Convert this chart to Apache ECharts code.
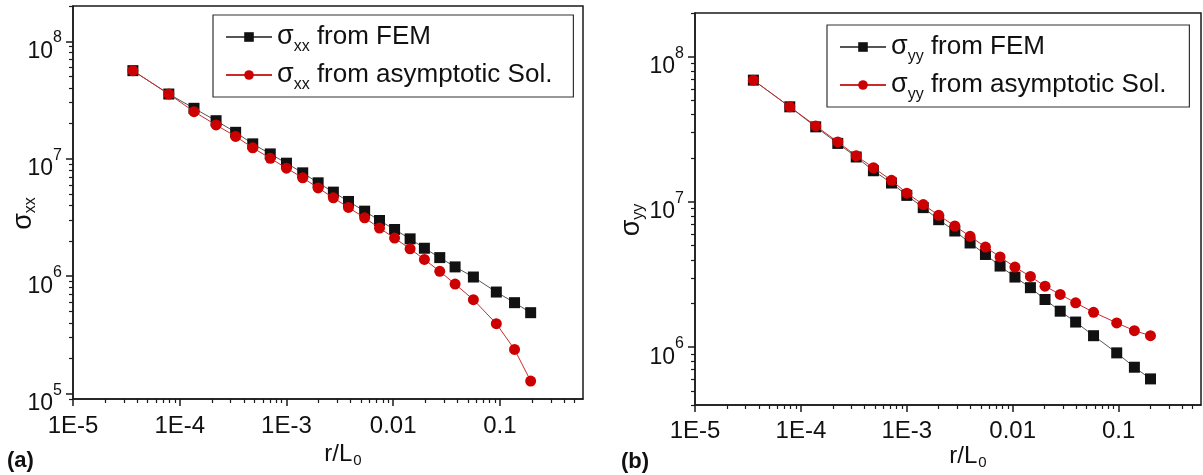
<!DOCTYPE html>
<html>
<head>
<meta charset="utf-8">
<style>
  html, body { margin: 0; padding: 0; background: #fff; }
  #chart { width: 1203px; height: 475px; }
</style>
<script src="https://cdn.jsdelivr.net/npm/echarts@6.0.0/dist/echarts.min.js"></script>
</head>
<body>
<div id="chart"></div>
<script>
// ---------- data ----------
const xA = [3.64e-5, 7.9e-5, 1.36e-4, 2.19e-4, 3.34e-4, 4.83e-4, 7.05e-4, 1.0e-3, 1.42e-3, 1.98e-3, 2.75e-3, 3.81e-3,
            5.4e-3, 7.44e-3, 0.0103, 0.0144, 0.0196, 0.0273, 0.038, 0.0564, 0.0925, 0.137, 0.194];
const sxxFEM = [5.63e7, 3.56e7, 2.69e7, 2.11e7, 1.68e7, 1.34e7, 1.10e7, 9.17e6, 7.59e6, 6.24e6, 5.2e6, 4.33e6,
                3.58e6, 2.98e6, 2.5e6, 2.08e6, 1.73e6, 1.44e6, 1.2e6, 9.84e5, 7.33e5, 5.95e5, 4.89e5];
const sxxAsym = [5.63e7, 3.56e7, 2.52e7, 1.94e7, 1.55e7, 1.24e7, 1.01e7, 8.32e6, 6.88e6, 5.65e6, 4.65e6, 3.85e6,
                 3.14e6, 2.57e6, 2.11e6, 1.71e6, 1.39e6, 1.10e6, 8.57e5, 6.31e5, 3.94e5, 2.38e5, 1.28e5];

const xB = [3.56e-5, 7.85e-5, 1.38e-4, 2.23e-4, 3.33e-4, 4.84e-4, 7.17e-4, 1.0e-3, 1.43e-3, 2.0e-3, 2.84e-3, 3.96e-3,
            5.53e-3, 7.6e-3, 0.0105, 0.0147, 0.0202, 0.0281, 0.0393, 0.058, 0.096, 0.141, 0.2];
const syyFEM = [6.9e7, 4.52e7, 3.29e7, 2.53e7, 2.04e7, 1.64e7, 1.35e7, 1.11e7, 9.14e6, 7.55e6, 6.31e6, 5.22e6,
                4.35e6, 3.62e6, 3.04e6, 2.57e6, 2.13e6, 1.77e6, 1.49e6, 1.2e6, 9.14e5, 7.28e5, 6.05e5];
const syyAsym = [6.9e7, 4.52e7, 3.34e7, 2.59e7, 2.08e7, 1.72e7, 1.41e7, 1.15e7, 9.59e6, 8.1e6, 6.83e6, 5.8e6,
                 4.89e6, 4.18e6, 3.56e6, 3.07e6, 2.63e6, 2.31e6, 2.02e6, 1.74e6, 1.47e6, 1.30e6, 1.2e6];

// ---------- ticks ----------
const xTickVals = [1e-5, 1e-4, 1e-3, 0.01, 0.1];
const xTickLabels = ['1E-5', '1E-4', '1E-3', '0.01', '0.1'];
const yTickValsA = [1e5, 1e6, 1e7, 1e8];
const yTickExpA = ['5', '6', '7', '8'];
const yTickValsB = [1e6, 1e7, 1e8];
const yTickExpB = ['6', '7', '8'];
const minorMult = [2, 3, 4, 5, 6, 7, 8, 9];

function minorTicks(lo, hi) {
  const out = [];
  for (let e = -6; e <= 9; e++) {
    minorMult.forEach(m => {
      const v = m * Math.pow(10, e);
      if (v >= lo * 0.999 && v <= hi * 1.001) out.push(v);
    });
  }
  return out;
}
function near(a, b) { return Math.abs(a - b) <= Math.abs(b) * 1e-6; }

const FONT = 'Liberation Sans, Arial, sans-serif';
const AXC = '#1a1a1a';

const xMin = 1e-5, xMax = 0.6;
const yMinA = 9e4, yMaxA = 2e8;
const yMinB = 4e5, yMaxB = 2e8;

function xMajor(grid, namePadLeft, labelMargin, nameGap) {
  return {
    type: 'log', gridIndex: grid, position: 'bottom', min: xMin, max: xMax, logBase: 10,
    name: '{t|r/L}{sub|0}', nameLocation: 'middle', nameGap: nameGap, nameMoveOverlap: false,
    nameTextStyle: {
      fontFamily: FONT, color: '#111', padding: [0, 0, 0, namePadLeft],
      rich: {
        t: { fontSize: 24, lineHeight: 24, fontFamily: FONT, color: '#111', verticalAlign: 'middle' },
        sub: { fontSize: 15, lineHeight: 15, fontFamily: FONT, color: '#111', padding: [14, 0, 0, 1], verticalAlign: 'middle' }
      }
    },
    axisLine: { show: true, lineStyle: { color: AXC, width: 1.5 } },
    axisTick: { show: true, inside: false, length: 7, customValues: xTickVals, lineStyle: { color: AXC, width: 1.5 } },
    axisLabel: {
      show: true, customValues: xTickVals, margin: labelMargin, fontSize: 24, fontFamily: FONT, color: '#111',
      formatter: function (v) {
        for (let i = 0; i < xTickVals.length; i++) if (near(v, xTickVals[i])) return xTickLabels[i];
        return '';
      }
    },
    splitLine: { show: false }, minorTick: { show: false }
  };
}
function xMinor(grid) {
  return {
    type: 'log', gridIndex: grid, position: 'bottom', min: xMin, max: xMax, logBase: 10,
    axisLine: { show: false },
    axisTick: { show: true, inside: false, length: 4, customValues: minorTicks(xMin, xMax), lineStyle: { color: AXC, width: 1.2 } },
    axisLabel: { show: false }, splitLine: { show: false }
  };
}
function yMajor(grid, mn, mx, vals, exps, nameStr, nameGap) {
  return {
    type: 'log', gridIndex: grid, position: 'left', min: mn, max: mx, logBase: 10,
    name: nameStr, nameLocation: 'middle', nameGap: nameGap, nameRotate: 90, nameMoveOverlap: false,
    nameTextStyle: {
      fontFamily: FONT, color: '#111', padding: [0, 22, 0, 0],
      rich: {
        s: { fontSize: 27, lineHeight: 27, fontFamily: FONT, color: '#111', verticalAlign: 'middle' },
        sub: { fontSize: 16, lineHeight: 16, fontFamily: FONT, color: '#111', padding: [14, 0, 0, 0], verticalAlign: 'middle' }
      }
    },
    axisLine: { show: true, lineStyle: { color: AXC, width: 1.5 } },
    axisTick: { show: true, inside: false, length: 7, customValues: vals, lineStyle: { color: AXC, width: 1.5 } },
    axisLabel: {
      show: true, customValues: vals, margin: 11, fontFamily: FONT, color: '#111',
      formatter: function (v) {
        for (let i = 0; i < vals.length; i++) if (near(v, vals[i])) return '{b|10}{e|' + exps[i] + '}';
        return '';
      },
      rich: {
        b: { fontSize: 23, lineHeight: 23, fontFamily: FONT, color: '#111', padding: [10, 0, 0, 0], verticalAlign: 'top' },
        e: { fontSize: 16, lineHeight: 16, fontFamily: FONT, color: '#111', verticalAlign: 'top' }
      }
    },
    splitLine: { show: false }, minorTick: { show: false }
  };
}
function yMinor(grid, mn, mx) {
  return {
    type: 'log', gridIndex: grid, position: 'left', min: mn, max: mx, logBase: 10,
    axisLine: { show: false },
    axisTick: { show: true, inside: false, length: 4, customValues: minorTicks(mn, mx), lineStyle: { color: AXC, width: 1.2 } },
    axisLabel: { show: false }, splitLine: { show: false }
  };
}

function pairs(xs, ys) { return xs.map((x, i) => [x, ys[i]]); }

const legendRich = {
  s: { fontSize: 27, lineHeight: 27, fontFamily: FONT, color: '#111', verticalAlign: 'middle' },
  sub: { fontSize: 16, lineHeight: 16, fontFamily: FONT, color: '#111', padding: [20, 0, 0, 0], verticalAlign: 'middle' },
  t: { fontSize: 26, lineHeight: 26, fontFamily: FONT, color: '#111', verticalAlign: 'middle' }
};

function legend(left, top, names, padRight) {
  return {
    orient: 'vertical', left: left, top: top,
    data: names,
    itemWidth: 46, itemHeight: 12, itemGap: 2,
    padding: [4, padRight, 4, 12],
    borderColor: '#333', borderWidth: 1.2, backgroundColor: '#fff',
    selectedMode: false,
    textStyle: { fontFamily: FONT, fontSize: 26, color: '#111', rich: legendRich },
    formatter: function (n) { return labelFor[n]; }
  };
}

const labelFor = {
  'sxx FEM': '{s|σ}{sub|xx}{t| from FEM}',
  'sxx asym': '{s|σ}{sub|xx}{t| from asymptotic Sol.}',
  'syy FEM': '{s|σ}{sub|yy}{t| from FEM}',
  'syy asym': '{s|σ}{sub|yy}{t| from asymptotic Sol.}'
};

function series(name, xi, yi, data, kind) {
  const black = kind === 'fem';
  return {
    name: name, type: 'line', xAxisIndex: xi, yAxisIndex: yi, data: data,
    symbol: black ? 'rect' : 'circle', symbolSize: 11,
    itemStyle: { color: black ? '#111' : '#cc0000' },
    lineStyle: { color: black ? '#555' : '#cc2a2a', width: 1 },
    animation: false, z: black ? 2 : 3
  };
}

const chart = echarts.init(document.getElementById('chart'), null, { renderer: 'canvas' });
chart.setOption({
  backgroundColor: '#fff',
  animation: false,
  grid: [
    { left: 73, top: 6, width: 510, height: 393, show: true, borderColor: AXC, borderWidth: 1.5,
      backgroundColor: 'transparent', containLabel: false, outerBoundsMode: 'none' },
    { left: 695, top: 13, width: 506, height: 392, show: true, borderColor: AXC, borderWidth: 1.5,
      backgroundColor: 'transparent', containLabel: false, outerBoundsMode: 'none' }
  ],
  xAxis: [xMajor(0, 30, 15, 43), xMinor(0), xMajor(1, 40, 14, 39), xMinor(1)],
  yAxis: [
    yMajor(0, yMinA, yMaxA, yTickValsA, yTickExpA, '{s|σ}{sub|xx}', 36),
    yMinor(0, yMinA, yMaxA),
    yMajor(1, yMinB, yMaxB, yTickValsB, yTickExpB, '{s|σ}{sub|yy}', 50),
    yMinor(1, yMinB, yMaxB)
  ],
  legend: [
    legend(213, 15, ['sxx FEM', 'sxx asym'], 21),
    legend(827, 25, ['syy FEM', 'syy asym'], 23)
  ],
  series: [
    series('sxx FEM', 0, 0, pairs(xA, sxxFEM), 'fem'),
    series('sxx asym', 0, 0, pairs(xA, sxxAsym), 'asym'),
    series('syy FEM', 2, 2, pairs(xB, syyFEM), 'fem'),
    series('syy asym', 2, 2, pairs(xB, syyAsym), 'asym')
  ],
  graphic: [
    { type: 'text', left: 7, top: 450, style: { text: '(a)', font: 'bold 22px ' + FONT, fill: '#111' } },
    { type: 'text', left: 621, top: 451, style: { text: '(b)', font: 'bold 22px ' + FONT, fill: '#111' } }
  ]
});
</script>
</body>
</html>
